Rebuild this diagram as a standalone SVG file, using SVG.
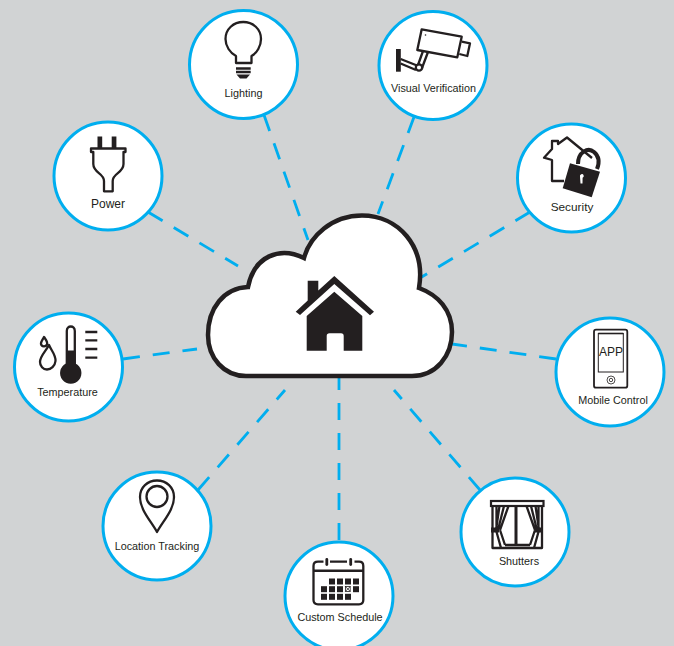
<svg xmlns="http://www.w3.org/2000/svg" width="674" height="646" viewBox="0 0 674 646">
<style>
.ring{fill:#fff;stroke:#00aeef;stroke-width:3}
.dash{fill:none;stroke:#00aeef;stroke-width:2.8;stroke-dasharray:17 13}
.ln{fill:none;stroke:#231f20;stroke-width:2.3;stroke-linejoin:round}
.fl{fill:#231f20}
.lb{font-family:"Liberation Sans",Arial,sans-serif;font-size:10.8px;fill:#231f20;text-anchor:middle}
</style>
<rect width="674" height="646" fill="#d1d3d4"/>
<g id="connectors">
<path class="dash" d="M264 115L308 240"/>
<path class="dash" d="M414 117L378 214"/>
<path class="dash" d="M530 212L420 278"/>
<path class="dash" d="M556 359L452 344"/>
<path class="dash" d="M480 490L394 390"/>
<path class="dash" d="M339 540V378"/>
<path class="dash" d="M198 490L285 390"/>
<path class="dash" d="M123 359L197 349"/>
<path class="dash" d="M148 212L238 266"/>
</g>
<g id="cloud">
<path d="M246 376H412C436 376 452 356 452 332C452 310 438 295 419 288C426 246 398 215.500 362 215.500C332 215.500 310 236 304 258C280 246 254 256 248 287C224 288 208 308 208 335C208 358 224 376 246 376Z" fill="#fff" stroke="#231f20" stroke-width="4.500"/>
<path class="fl" d="M334.300 276L374 311.700L370 315.300L334.300 284L300 315L295.700 311.700L307.700 300.500V280.700H318.300V290.500Z"/>
<path class="fl" d="M334.300 291.700L362.300 316V350.700H343.700V336Q343.700 333.300 341 333.300H329.500Q326.700 333.300 326.700 336V350.700H306.700V316Z"/>
</g>
<g id="lighting">
<circle class="ring" cx="243.500" cy="64.500" r="54"/>
<path class="ln" d="M236 63V56C230 53 225.500 46 225.500 39C225.500 29 233.500 22 243.300 22C253 22 261 29 261 39C261 46 257 53 251.500 56V63Z"/>
<path class="ln" d="M236 68.500H250.700M236 72H250.700"/>
<path class="fl" d="M236.500 74.500H250L246.500 78.500H240Z"/>
<text class="lb" x="243.500" y="97">Lighting</text>
</g>
<g id="visual-verification">
<circle class="ring" cx="433" cy="65.500" r="54"/>
<path class="ln" stroke-width="2.500" d="M421.700 29.300L461.700 36.700L457.300 57.300L417.300 50Z"/>
<path class="ln" stroke-width="2.500" d="M461.700 41.700L470 43.300L467.300 56L459.300 54"/>
<rect class="fl" x="396" y="49" width="4.800" height="22.700"/>
<path class="ln" stroke-width="2.500" d="M400.600 59L417 65.500M400.600 63.500L416 70M423 51L418 65M428 52L422 68"/>
<circle class="ln" cx="419" cy="67.500" r="3.200"/>
<circle class="fl" cx="425.500" cy="35" r=".8"/>
<text class="lb" x="433.500" y="91.700">Visual Verification</text>
</g>
<g id="security">
<circle class="ring" cx="571.500" cy="178" r="54"/>
<path class="ln" stroke-width="1.800" d="M564 181H552V160L544 157.700L552 149V141H558V144L567 137.500L592 158"/>
<path fill="none" stroke="#231f20" stroke-width="4" d="M578 164C578 152 588 147 594 152C600 157 599 164 597 169"/>
<path class="fl" d="M570 163.300L600 171.700L591.700 197.300L562.700 188.300Z"/>
<path fill="#fff" d="M580 176.500a1.900 1.900 0 1 1 2.600 1.200L582.500 183.500H580.500Z"/>
<text class="lb" style="font-size:11.800px" x="572" y="210.700">Security</text>
</g>
<g id="mobile-control">
<circle class="ring" cx="610" cy="372" r="54"/>
<rect x="594" y="329.700" width="33.300" height="58" rx="2" fill="none" stroke="#231f20" stroke-width="1.800"/>
<rect x="598.300" y="333.500" width="25" height="38.500" fill="none" stroke="#231f20" stroke-width="1"/>
<path d="M598.300 333.500H623.300" stroke="#231f20" stroke-width="1.600"/>
<text x="611" y="356" style="font-family:'Liberation Sans',Arial,sans-serif;font-size:12px;fill:#231f20;text-anchor:middle">APP</text>
<circle cx="611" cy="380" r="4" fill="none" stroke="#231f20" stroke-width=".8"/>
<circle cx="611" cy="380" r="1.700" fill="none" stroke="#231f20" stroke-width=".8"/>
<text class="lb" x="613" y="404">Mobile Control</text>
</g>
<g id="shutters">
<circle class="ring" cx="515" cy="532" r="54"/>
<rect x="491" y="501" width="52.500" height="5" fill="#fff" stroke="#231f20" stroke-width="2.200"/>
<path class="ln" d="M492.500 506V548H542V506M505 545H530M505 548H530"/>
<rect class="fl" x="514.500" y="506" width="3" height="40"/>
<path class="ln" stroke-width="1.800" d="M496.500 506V530M499.500 506L496 530M504 506L498 530M508.500 506L500 530M500 530L505 545M496 530L501 548M538.500 506V530M535.500 506L539 530M531 506L537 530M526.500 506L535 530M535 530L530 545M539 530L534 548"/>
<rect class="fl" x="491" y="527.500" width="8" height="5"/>
<rect class="fl" x="535" y="527.500" width="8" height="5"/>
<text class="lb" x="519" y="564.500">Shutters</text>
</g>
<g id="custom-schedule">
<circle class="ring" cx="339" cy="596" r="54"/>
<path class="ln" d="M323.500 561.700H318Q313.500 561.700 313.500 566V600Q313.500 604.300 318 604.300H359Q363.300 604.300 363.300 600V566Q363.300 561.700 359 561.700H354.500M330 561.700H347"/>
<rect class="fl" x="325.400" y="558" width="2.800" height="8" rx="1.400"/>
<rect class="fl" x="349.300" y="558" width="2.800" height="8" rx="1.400"/>
<rect class="fl" x="313.500" y="569.500" width="50" height="2.500"/>
<g class="fl">
<rect x="329" y="578.500" width="6" height="6"/><rect x="337" y="578.500" width="6" height="6"/><rect x="345" y="578.500" width="6" height="6"/><rect x="353" y="578.500" width="6" height="6"/>
<rect x="321" y="586.200" width="6" height="6"/><rect x="329" y="586.200" width="6" height="6"/><rect x="337" y="586.200" width="6" height="6"/><rect x="353" y="586.200" width="6" height="6"/>
<rect x="321" y="593.800" width="6" height="6"/><rect x="329" y="593.800" width="6" height="6"/><rect x="337" y="593.800" width="6" height="6"/><rect x="345" y="593.800" width="6" height="6"/>
</g>
<rect x="345.400" y="586.600" width="4.800" height="4.800" fill="none" stroke="#231f20" stroke-width=".8"/>
<path d="M345.400 586.600L350.200 591.400M350.200 586.600L345.400 591.400" stroke="#231f20" stroke-width=".8"/>
<text class="lb" x="340" y="621.300">Custom Schedule</text>
</g>
<g id="location-tracking">
<circle class="ring" cx="157" cy="526" r="54"/>
<path class="ln" d="M157 532C151 521 140 510 140 497C140 487.500 147.500 480.500 157 480.500C166.500 480.500 174 487.500 174 497C174 510 163 521 157 532Z"/>
<circle class="ln" cx="157" cy="496.500" r="10.500"/>
<text class="lb" x="157" y="549.500">Location Tracking</text>
</g>
<g id="temperature">
<circle class="ring" cx="68.500" cy="367" r="54"/>
<path class="ln" stroke-width="1.800" d="M66.800 365V331C66.800 325 74.800 325 74.800 331V365"/>
<path class="fl" d="M66 350.500H75.500V363.500A10.700 10.700 0 1 1 66 363.500Z"/>
<path class="ln" d="M85.300 332H97.300M85.300 340.300H97.300M85.300 349H97.300M85.300 357.700H97.300"/>
<path class="ln" stroke-width="1.500" d="M44 337C46 340 48 342 47 344.500C46 347 41.500 347 41 344C40.500 342 43 339 44 337Z"/>
<path class="ln" stroke-width="1.800" d="M49 345C51 350 56 355 55.500 361C55 366 51 369.500 47 369.500C43 369.500 40 366 40 362C40 356 46 351 49 345Z"/>
<text class="lb" x="67.500" y="396.300">Temperature</text>
</g>
<g id="power">
<circle class="ring" cx="108" cy="176" r="54"/>
<path class="ln" d="M91 148.500H125.500V152H123.500V164C123.500 173 112.700 173 112.700 181V191.300H104V181C104 173 93.300 173 93.300 164V152H91Z"/>
<rect class="fl" x="97.500" y="136.500" width="4.700" height="11.500"/>
<rect class="fl" x="111.700" y="136.500" width="4.700" height="11.500"/>
<text class="lb" style="font-size:12px" x="108" y="207.500">Power</text>
</g>
</svg>
